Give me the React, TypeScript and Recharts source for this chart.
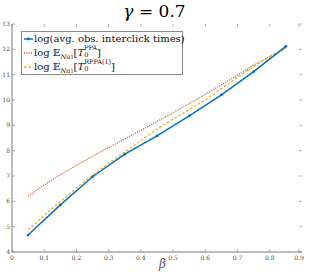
import React from 'react';
import { LineChart, Line, XAxis, YAxis } from 'recharts';

const xTicks = [0, 0.1, 0.2, 0.3, 0.4, 0.5, 0.6, 0.7, 0.8, 0.9];
const yTicks = [4, 5, 6, 7, 8, 9, 10, 11, 12, 13];

// observed points
const betaObs = [0.05, 0.15, 0.25, 0.35, 0.45, 0.55, 0.65, 0.75, 0.85];
const logObs = [4.67, 5.86, 6.97, 7.86, 8.58, 9.37, 10.2, 11.12, 12.12];

// model curves
const betaFine = [0.05, 0.1, 0.15, 0.2, 0.25, 0.3, 0.35, 0.4, 0.45, 0.5, 0.55, 0.6, 0.65, 0.7, 0.75, 0.8, 0.85];
const logPPA = [6.2, 6.65, 7.05, 7.42, 7.78, 8.12, 8.47, 8.8, 9.15, 9.5, 9.86, 10.22, 10.6, 10.98, 11.38, 11.72, 12.05];
const logRPPA = [4.87, 5.45, 6.0, 6.52, 7.03, 7.5, 7.95, 8.4, 8.85, 9.25, 9.62, 10.0, 10.45, 10.9, 11.32, 11.7, 12.05];

const obsData = betaObs.map((b, i) => ({ beta: b, v: logObs[i] }));
const ppaData = betaFine.map((b, i) => ({ beta: b, v: logPPA[i] }));
const rppaData = betaFine.map((b, i) => ({ beta: b, v: logRPPA[i] }));

const W = 309, H = 277;
const TOP = 24, LEFT = 12, RIGHT = 7, BOTTOM = 25;
const AX = '#7a7a7a';
const SERIF = 'DejaVu Serif';

const XTick = ({ x, y, payload }: any) => (
  <g>
    <line x1={x} x2={x} y1={y} y2={y - 3} stroke={AX} strokeWidth={0.6} />
    <line x1={x} x2={x} y1={TOP} y2={TOP + 3} stroke={AX} strokeWidth={0.6} />
    <text x={x} y={y + 8} textAnchor="middle" fontSize={6} fill="#444" fontFamily={SERIF}>{payload.value}</text>
  </g>
);

const YTick = ({ x, y, payload }: any) => (
  <g>
    <line x1={x} x2={x + 3} y1={y} y2={y} stroke={AX} strokeWidth={0.6} />
    <line x1={W - RIGHT} x2={W - RIGHT - 3} y1={y} y2={y} stroke={AX} strokeWidth={0.6} />
    <text x={x - 2} y={y + 2} textAnchor="end" fontSize={6} fill="#444" fontFamily={SERIF}>{payload.value}</text>
  </g>
);

const row = (top: number): React.CSSProperties => ({ position: 'absolute', left: 2, top, display: 'flex', alignItems: 'center', whiteSpace: 'nowrap' });

export default function App() {
  return (
    <div style={{ position: 'absolute', left: 0, top: 0, width: W, height: H, background: '#fff' }}>
      <div style={{ position: 'absolute', left: 0, top: 0, width: W, textAlign: 'center', fontFamily: SERIF, fontSize: 17, lineHeight: '23px' }}>
        <i>γ</i> = 0.7
      </div>
      <LineChart width={W} height={H} margin={{ top: TOP, right: RIGHT, left: 0, bottom: 0 }}>
        <XAxis dataKey="beta" type="number" domain={[0, 0.9]} ticks={xTicks} height={BOTTOM}
          stroke={AX} tickSize={0} tickMargin={0} tick={<XTick />} allowDuplicatedCategory={false} />
        <XAxis xAxisId="top" orientation="top" type="number" domain={[0, 0.9]} height={0} tick={false} stroke={AX} />
        <YAxis type="number" domain={[4, 13]} ticks={yTicks} width={LEFT} stroke={AX}
          tickSize={0} tickMargin={0} tick={<YTick />} />
        <YAxis yAxisId="right" orientation="right" type="number" domain={[4, 13]} width={0} tick={false} stroke={AX} />
        <Line data={ppaData} dataKey="v" stroke="#D95319" strokeWidth={1.3} strokeDasharray="1 1.3" dot={false} isAnimationActive={false} />
        <Line data={rppaData} dataKey="v" stroke="#EDB120" strokeWidth={1.3} strokeDasharray="2.5 2" dot={false} isAnimationActive={false} />
        <Line data={obsData} dataKey="v" stroke="#0072BD" strokeWidth={1.5} dot={{ r: 1.4, fill: '#0072BD', strokeWidth: 0 }} isAnimationActive={false} />
      </LineChart>
      <div style={{ position: 'absolute', left: 21, top: 31, width: 162, height: 44, border: '0.8px solid #8a8a8a', background: '#fff', fontFamily: SERIF, fontSize: 10, color: '#111', boxSizing: 'border-box', lineHeight: '12px' }}>
        <div style={row(1)}>
          <svg width={9} height={6} style={{ marginRight: 1 }}><line x1={0} x2={9} y1={3} y2={3} stroke="#0072BD" strokeWidth={1.5} /><circle cx={4.5} cy={3} r={1.4} fill="#0072BD" /></svg>
          <span>log(avg. obs. interclick times)</span>
        </div>
        <div style={row(14)}>
          <svg width={9} height={6} style={{ marginRight: 1 }}><line x1={0} x2={9} y1={3} y2={3} stroke="#D95319" strokeWidth={1.3} strokeDasharray="1 1.3" /></svg>
          <span>log 𝔼<span style={{ fontSize: 6.5, position: 'relative', top: 3 }}><i>N</i>π<span style={{ fontSize: 5 }}>1</span></span>[<i>T</i><span style={{ display: 'inline-flex', flexDirection: 'column', fontSize: 6.5, lineHeight: '7px', verticalAlign: 'middle', position: 'relative', top: -1 }}><span>PPA</span><span>0</span></span>]</span>
        </div>
        <div style={row(28)}>
          <svg width={9} height={6} style={{ marginRight: 1 }}><line x1={0} x2={9} y1={3} y2={3} stroke="#EDB120" strokeWidth={1.3} strokeDasharray="2.5 2" /></svg>
          <span>log 𝔼<span style={{ fontSize: 6.5, position: 'relative', top: 3 }}><i>N</i>π<span style={{ fontSize: 5 }}>1</span></span>[<i>T</i><span style={{ display: 'inline-flex', flexDirection: 'column', fontSize: 6.5, lineHeight: '7px', verticalAlign: 'middle', position: 'relative', top: -1 }}><span>RPPA(1)</span><span>0</span></span>]</span>
        </div>
      </div>
      <div style={{ position: 'absolute', left: 0, top: 257, width: W, textAlign: 'center', fontFamily: SERIF, fontSize: 12, fontStyle: 'italic', color: '#555', paddingLeft: 8 }}>
        β
      </div>
    </div>
  );
}
